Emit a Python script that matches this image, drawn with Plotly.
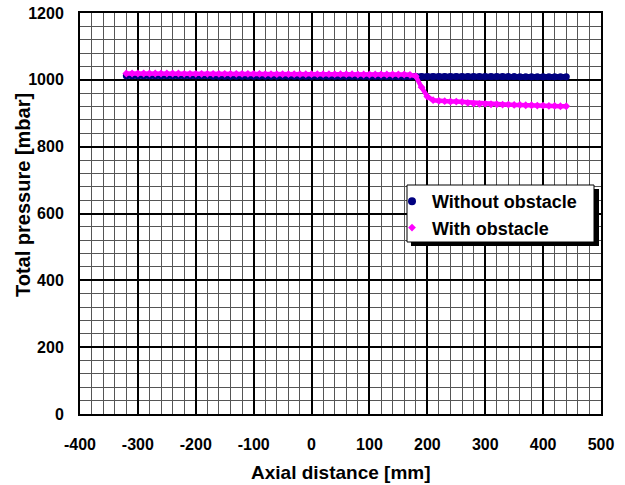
import plotly.graph_objects as go

axial_mm = [-320, -310, -300, -290, -280, -270, -260, -250, -240, -230,
            -220, -210, -200, -190, -180, -170, -160, -150, -140, -130,
            -120, -110, -100, -90, -80, -70, -60, -50, -40, -30,
            -20, -10, 0, 10, 20, 30, 40, 50, 60, 70,
            80, 90, 100, 110, 120, 130, 140, 150, 160, 170,
            180, 190, 200, 210, 220, 230, 240, 250, 260, 270,
            280, 290, 300, 310, 320, 330, 340, 350, 360, 370,
            380, 390, 400, 410, 420, 430, 440]

without_obstacle = [1012, 1012, 1012, 1012, 1012, 1012, 1012, 1012, 1012, 1012,
                    1012, 1012, 1012, 1012, 1012, 1011, 1011, 1011, 1011, 1011,
                    1011, 1011, 1011, 1011, 1011, 1011, 1011, 1011, 1011, 1011,
                    1011, 1011, 1011, 1011, 1011, 1011, 1011, 1011, 1011, 1011,
                    1011, 1011, 1011, 1011, 1011, 1011, 1010, 1010, 1010, 1010,
                    1010, 1010, 1010, 1010, 1010, 1010, 1010, 1010, 1010, 1010,
                    1010, 1010, 1010, 1010, 1010, 1010, 1010, 1010, 1009, 1009,
                    1009, 1009, 1009, 1009, 1009, 1009, 1009]

with_obstacle = [1019, 1019, 1019, 1019, 1019, 1019, 1019, 1019, 1019, 1019,
                 1018, 1018, 1018, 1018, 1018, 1018, 1018, 1018, 1018, 1018,
                 1018, 1018, 1018, 1018, 1017, 1017, 1017, 1017, 1017, 1017,
                 1017, 1017, 1017, 1017, 1017, 1017, 1017, 1017, 1017, 1017,
                 1016, 1016, 1016, 1016, 1016, 1016, 1016, 1016, 1016, 1015,
                 1011, 978, 950, 939, 937, 936, 935, 935, 934, 931,
                 929, 928, 928, 927, 927, 926, 926, 925, 925, 924,
                 924, 923, 923, 922, 922, 921, 921]

x_ticks = [-400, -300, -200, -100, 0, 100, 200, 300, 400, 500]
x_tick_labels = ["-400", "-300", "-200", "-100", "0", "100", "200", "300", "400", "500"]
y_ticks = [0, 200, 400, 600, 800, 1000, 1200]
y_tick_labels = ["0", "200", "400", "600", "800", "1000", "1200"]

NAVY = "#000080"
MAGENTA = "#FF00FF"
FONT = "Liberation Sans, Arial, sans-serif"

W, H = 625, 485
PLOT_L, PLOT_R, PLOT_T, PLOT_B = 80, 601, 13, 414  # pixel coords
L, R, T, B = PLOT_L, W - PLOT_R, PLOT_T, H - PLOT_B
PW, PH = W - L - R, H - T - B


def px_x(wx):
    return (wx - PLOT_L) / PW


def px_y(wy):
    return (PLOT_B - wy) / PH


fig = go.Figure()

fig.add_trace(go.Scatter(x=axial_mm, y=without_obstacle, mode="lines+markers",
                         line=dict(color=NAVY, width=6),
                         marker=dict(color=NAVY, size=7, symbol="circle"),
                         showlegend=False, hoverinfo="skip"))
fig.add_trace(go.Scatter(x=axial_mm, y=with_obstacle, mode="lines+markers",
                         line=dict(color=MAGENTA, width=4.5),
                         marker=dict(color=MAGENTA, size=6, symbol="diamond"),
                         showlegend=False, hoverinfo="skip"))
# legend entries
fig.add_trace(go.Scatter(x=[None], y=[None], mode="markers", name="Without obstacle",
                         marker=dict(color=NAVY, size=8, symbol="circle")))
fig.add_trace(go.Scatter(x=[None], y=[None], mode="markers", name="With obstacle",
                         marker=dict(color=MAGENTA, size=6, symbol="diamond")))

axis_common = dict(
    showgrid=True, gridcolor="black", gridwidth=2,
    showline=True, linecolor="black", linewidth=2, mirror=True,
    zeroline=False, ticks="", automargin=False, ticklabeloverflow="allow",
    tickfont=dict(family=FONT, size=16, color="black", weight="bold"),
)

fig.update_xaxes(**axis_common, range=[-400, 500], tickvals=x_ticks, ticktext=x_tick_labels,
                 minor=dict(dtick=20, showgrid=True, gridcolor="#555555", gridwidth=1, tick0=0),
                 ticklabelstandoff=15)
fig.update_yaxes(**axis_common, range=[0, 1200], tickvals=y_ticks, ticktext=y_tick_labels,
                 minor=dict(dtick=40, showgrid=True, gridcolor="#555555", gridwidth=1, tick0=0),
                 ticklabelstandoff=11)

# axis titles
fig.add_annotation(text="Axial distance [mm]", xref="paper", yref="paper",
                   x=px_x(341), y=px_y(472), xanchor="center", yanchor="middle",
                   showarrow=False,
                   font=dict(family=FONT, size=19, color="black", weight="bold"))
fig.add_annotation(text="Total pressure [mbar]", xref="paper", yref="paper",
                   x=px_x(23), y=px_y(195), xanchor="center", yanchor="middle",
                   textangle=-90, showarrow=False,
                   font=dict(family=FONT, size=20, color="black", weight="bold"))

# legend frame with drop shadow
fig.add_shape(type="rect", xref="paper", yref="paper",
              x0=px_x(411), x1=px_x(599), y0=px_y(246), y1=px_y(189),
              fillcolor="black", line=dict(width=0), layer="above")
fig.add_shape(type="rect", xref="paper", yref="paper",
              x0=px_x(407), x1=px_x(594), y0=px_y(242), y1=px_y(185),
              fillcolor="white", line=dict(color="black", width=1), layer="above")

fig.update_layout(
    width=W, height=H,
    margin=dict(l=L, r=R, t=T, b=B, autoexpand=False),
    paper_bgcolor="white", plot_bgcolor="white",
    font=dict(family=FONT, color="black"),
    legend=dict(x=px_x(392), y=px_y(183), xanchor="left", yanchor="top",
                bgcolor="rgba(0,0,0,0)", borderwidth=0,
                font=dict(family=FONT, size=18, color="black", weight="bold"),
                itemwidth=30),
)

fig.write_html("out.html", config={"displayModeBar": False},
               post_script="document.body.style.margin='0';")
